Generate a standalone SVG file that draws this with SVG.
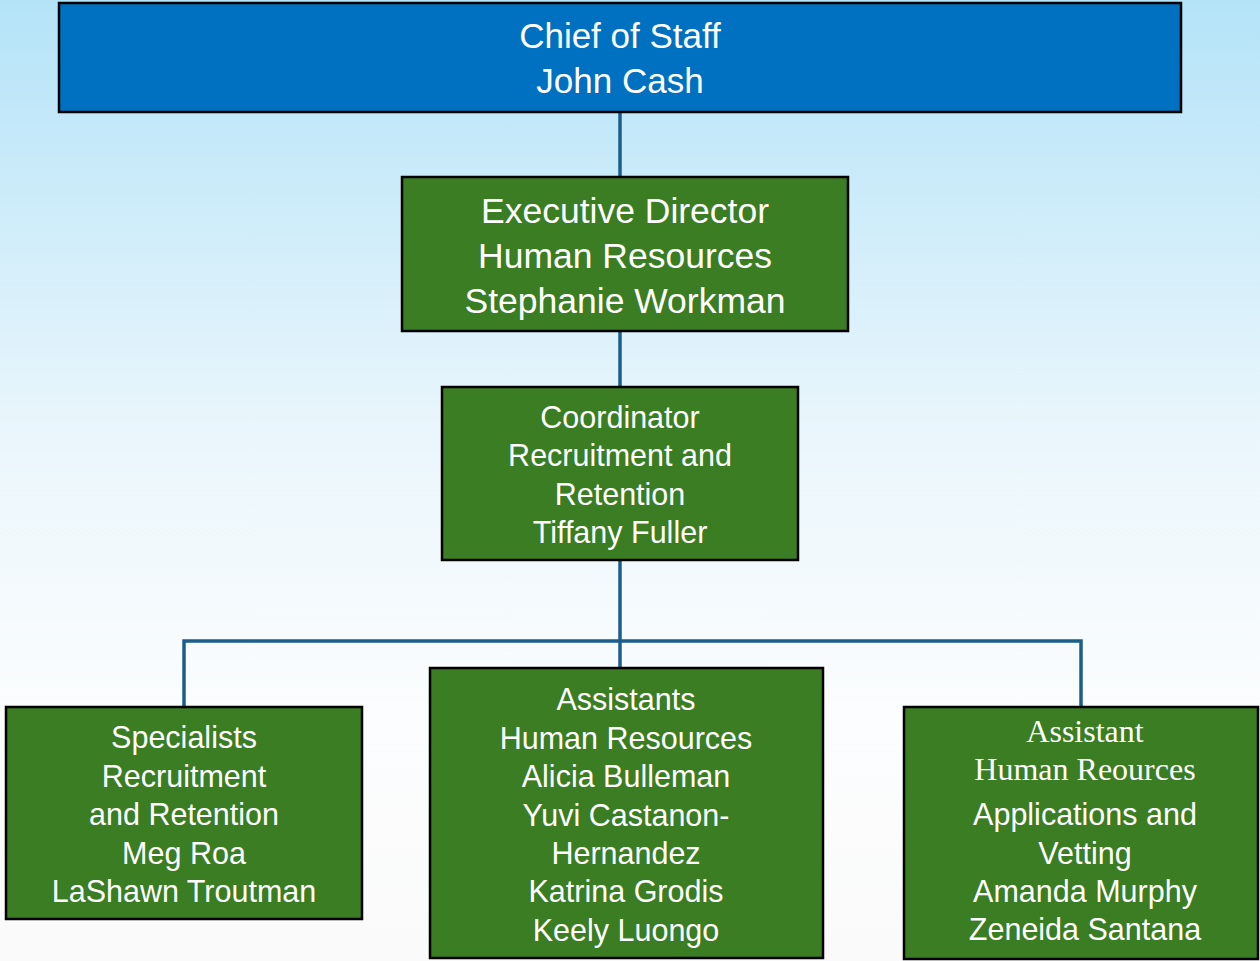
<svg xmlns="http://www.w3.org/2000/svg" width="1260" height="961" viewBox="0 0 1260 961">
<defs>
<linearGradient id="bg" x1="0" y1="0" x2="0" y2="1">
<stop offset="0" stop-color="#B4E3F8"/>
<stop offset="0.45" stop-color="#EAF6FC"/>
<stop offset="0.75" stop-color="#FCFDFE"/>
<stop offset="1" stop-color="#FAFAFA"/>
</linearGradient>
<style>
.box{stroke:#000;stroke-width:2.5}
.green{fill:#3A7D22}
.blue{fill:#0070C0}
.t{fill:#fff;font-family:"Liberation Sans",Arial,sans-serif;text-anchor:middle}
.b{font-size:30.5px}
.s{fill:#fff;font-family:"Liberation Serif","Times New Roman",serif;text-anchor:middle;font-size:32px}
.c{fill:none;stroke:#1B5E8A;stroke-width:3.5}
</style>
</defs>
<rect width="1260" height="961" fill="url(#bg)"/>
<g id="connectors">
<line class="c" x1="620" y1="112" x2="620" y2="177"/>
<line class="c" x1="620" y1="331" x2="620" y2="387"/>
<line class="c" x1="620" y1="560" x2="620" y2="668"/>
<polyline class="c" points="184,707 184,641 1081,641 1081,707"/>
</g>
<g id="chief">
<rect class="box blue" x="59" y="3" width="1122" height="109"/>
<text class="t" font-size="35" x="620" y="48">Chief of Staff</text>
<text class="t" font-size="35" x="620" y="93">John Cash</text>
</g>
<g id="exec">
<rect class="box green" x="402" y="177" width="446" height="154"/>
<text class="t" font-size="35.5" x="625" y="223">Executive Director</text>
<text class="t" font-size="35.5" x="625" y="268">Human Resources</text>
<text class="t" font-size="35.5" x="625" y="313">Stephanie Workman</text>
</g>
<g id="coordinator">
<rect class="box green" x="442" y="387" width="356" height="173"/>
<text class="t b" x="620" y="428">Coordinator</text>
<text class="t b" x="620" y="466">Recruitment and</text>
<text class="t b" x="620" y="505">Retention</text>
<text class="t b" x="620" y="543">Tiffany Fuller</text>
</g>
<g id="specialists">
<rect class="box green" x="6" y="707" width="356" height="212"/>
<text class="t b" x="184" y="748">Specialists</text>
<text class="t b" x="184" y="787">Recruitment</text>
<text class="t b" x="184" y="825">and Retention</text>
<text class="t b" x="184" y="864">Meg Roa</text>
<text class="t b" x="184" y="902">LaShawn Troutman</text>
</g>
<g id="assistants">
<rect class="box green" x="430" y="668" width="393" height="290"/>
<text class="t b" x="626" y="710">Assistants</text>
<text class="t b" x="626" y="749">Human Resources</text>
<text class="t b" x="626" y="787">Alicia Bulleman</text>
<text class="t b" x="626" y="826">Yuvi Castanon-</text>
<text class="t b" x="626" y="864">Hernandez</text>
<text class="t b" x="626" y="902">Katrina Grodis</text>
<text class="t b" x="626" y="941">Keely Luongo</text>
</g>
<g id="assistant-apps">
<rect class="box green" x="904" y="707" width="354" height="252"/>
<text class="s" x="1085" y="742">Assistant</text>
<text class="s" x="1085" y="780">Human Reources</text>
<text class="t b" x="1085" y="825">Applications and</text>
<text class="t b" x="1085" y="864">Vetting</text>
<text class="t b" x="1085" y="902">Amanda Murphy</text>
<text class="t b" x="1085" y="940">Zeneida Santana</text>
</g>
</svg>
